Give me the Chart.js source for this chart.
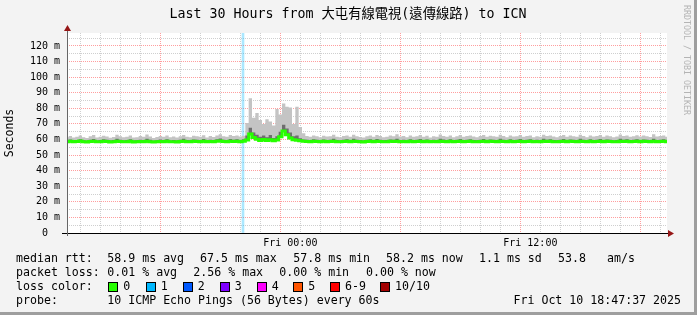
<!DOCTYPE html>
<html>
<head>
<meta charset="utf-8">
<script src="https://cdn.jsdelivr.net/npm/chart.js@4.4.0/dist/chart.umd.min.js"></script>
<style>
  html, body { margin: 0; padding: 0; background: #f3f3f3; }
  #wrap { width: 697px; height: 315px; }
</style>
</head>
<body>
<div id="wrap"><canvas id="chart" width="697" height="315"></canvas></div>
<script>
// 30 hours, one value every 10 minutes, starting Thu 12:50
const stepMin = 10;

// median rtt (ms)
const rttMed = [
  58.6,58.8,58.5,58.7,59.0,58.6,58.4,58.7,58.9,58.5,
  58.6,58.8,58.7,58.4,58.6,58.9,58.7,58.5,58.6,58.8,
  58.4,58.5,58.7,58.6,58.9,58.6,58.3,58.5,58.7,58.6,
  58.8,58.5,58.6,58.4,58.7,58.9,58.6,58.5,58.8,58.7,
  58.6,58.9,58.5,58.7,58.6,58.8,59.0,58.7,58.6,58.9,
  58.7,58.8,58.5,
  58.9,59.6,63.5,61.2,60.1,59.4,60.0,59.3,59.8,59.2,
  59.6,61.8,65.5,63.0,61.0,59.8,59.5,59.1,58.8,
  58.7,58.6,58.9,58.7,58.5,58.8,58.6,58.7,58.9,58.6,
  58.5,58.7,58.8,58.6,58.9,58.7,58.6,58.4,58.7,58.8,
  58.6,58.9,58.7,58.5,58.6,58.8,58.7,58.9,58.6,58.7,
  58.5,58.8,58.6,58.7,58.9,58.6,58.8,58.5,58.7,58.6,
  58.9,58.7,58.6,58.8,58.5,58.7,58.9,58.6,58.7,58.8,
  58.6,58.5,58.7,58.9,58.6,58.8,58.7,58.6,58.9,58.7,
  58.5,58.8,58.6,58.7,58.9,58.6,58.7,58.8,58.5,58.7,
  58.6,58.9,58.7,58.8,58.6,58.5,58.7,58.9,58.6,58.8,
  58.7,58.6,58.9,58.7,58.5,58.8,58.6,58.7,58.9,58.6,
  58.8,58.7,58.5,58.6,58.9,58.7,58.8,58.6,58.7,58.9,
  58.6,58.8,58.7,58.5,58.9,58.6,58.7,58.8,58.6
];

// upper part of the ping spread (dark smoke top, ms)
const rttMid = [
  59.6,60.0,59.3,59.7,60.2,59.5,59.2,59.8,60.3,59.4,
  59.6,60.1,59.8,59.3,59.6,60.4,59.9,59.4,59.7,60.1,
  59.3,59.5,59.9,59.6,60.5,59.8,59.2,59.5,60.0,59.7,
  60.1,59.4,59.7,59.3,59.9,60.4,59.7,59.5,60.0,59.8,
  59.7,60.3,59.4,59.9,59.6,60.1,60.6,59.8,59.7,60.3,
  59.9,60.1,59.6,
  60.1,62.5,67.5,64.5,63.0,61.8,62.5,61.5,62.8,61.0,
  62.0,65.0,69.5,67.0,64.5,62.0,62.5,60.8,60.0,
  59.9,59.6,60.2,59.8,59.4,60.0,59.7,59.8,60.4,59.6,
  59.4,59.9,60.1,59.7,60.4,59.8,59.6,59.3,59.8,60.1,
  59.7,60.3,59.9,59.5,59.6,60.0,59.8,60.5,59.7,59.9,
  59.4,60.1,59.7,59.8,60.3,59.6,60.0,59.3,59.8,59.7,
  60.5,60.0,59.6,60.1,59.4,59.8,60.3,59.7,59.9,60.1,
  59.7,59.5,59.9,60.3,59.6,60.0,59.8,59.7,60.4,59.9,
  59.5,60.1,59.7,59.8,60.3,59.6,59.9,60.1,59.4,59.8,
  59.7,60.4,59.9,60.1,59.7,59.5,59.9,60.3,59.6,60.0,
  59.8,59.7,60.4,59.9,59.5,60.1,59.7,59.9,60.3,59.7,
  60.0,59.8,59.4,59.7,60.5,59.9,60.1,59.7,59.8,60.2,
  59.7,60.0,59.8,59.6,60.5,59.7,59.9,60.1,59.7
];

// max ping (light smoke top, ms)
const rttMax = [
  61.5,62.3,61.2,61.8,62.6,61.4,61.0,62.0,62.8,61.3,
  61.7,62.4,61.9,61.1,61.6,63.0,62.1,61.4,61.8,62.5,
  61.2,61.5,62.2,61.7,63.2,61.9,61.0,61.6,62.3,61.8,
  62.6,61.4,61.9,61.2,62.1,62.9,61.7,61.5,62.4,62.0,
  61.8,62.7,61.3,62.2,61.6,62.5,63.4,62.0,61.7,62.8,
  62.2,62.5,61.9,
  62.4,70.5,86.5,74.0,77.0,72.5,70.0,73.0,71.5,69.0,
  79.5,76.0,83.0,81.0,80.5,70.0,81.0,68.0,64.0,
  62.3,61.8,62.6,62.0,61.5,62.4,61.9,62.1,63.0,61.7,
  61.4,62.2,62.5,61.8,63.1,62.0,61.6,61.3,62.1,62.6,
  61.8,62.9,62.2,61.5,61.7,62.5,62.0,63.3,61.9,62.2,
  61.4,62.6,61.8,62.1,62.8,61.7,62.4,61.3,62.0,61.8,
  63.2,62.3,61.7,62.5,61.4,62.1,62.9,61.8,62.2,62.6,
  61.9,61.5,62.2,62.8,61.7,62.4,62.0,61.8,63.0,62.3,
  61.5,62.6,61.9,62.1,62.9,61.7,62.2,62.5,61.4,62.0,
  61.8,63.1,62.2,62.6,61.9,61.5,62.3,62.9,61.7,62.5,
  62.1,61.8,63.0,62.2,61.5,62.6,61.9,62.3,62.8,61.8,
  62.5,62.1,61.4,61.9,63.2,62.2,62.6,61.8,62.0,62.7,
  61.9,62.5,62.1,61.6,63.4,61.9,62.2,62.5,61.8
];

// packet loss events (minutes from start)
const lossMinutes = [528];

const yMax = 128.3;
const yGridMs = [0,5,10,15,20,25,30,35,40,45,50,55,60,65,70,75,80,85,90,95,100,105,110,115,120,125];
const xLabelMinutes = [670, 1390];
const xLabels = ['Fri 00:00', 'Fri 12:00'];

const lossLabels = ['0', '1', '2', '3', '4', '5', '6-9', '10/10'];
const lossColors = ['#26ff00', '#00b8ff', '#0059ff', '#7e00ff', '#ff00ff', '#ff5500', '#ff0000', '#a10000'];

const title = 'Last 30 Hours from 大屯有線電視(遠傳線路) to ICN';
const rttStats = ['58.9 ms avg', '67.5 ms max', '57.8 ms min', '58.2 ms now', '1.1 ms sd', '53.8', 'am/s'];
const lossStats = ['0.01 % avg', '2.56 % max', '0.00 % min', '0.00 % now'];
const probeText = '10 ICMP Echo Pings (56 Bytes) every 60s';
const stamp = 'Fri Oct 10 18:47:37 2025';
const mono = "'DejaVu Sans Mono', 'Noto Sans CJK TC', monospace";

const pts = arr => arr.map((v, i) => ({ x: i * stepMin, y: v }));

const hourTicks = [];
for (let m = 10; m <= 1790; m += 60) hourTicks.push(m);

const majorRed = 'rgba(255,0,0,0.38)';
const minorGray = 'rgba(128,128,128,0.38)';

const frame = {
  id: 'frame',
  beforeDraw(chart) {
    const { ctx, chartArea: a } = chart;
    ctx.save();
    ctx.fillStyle = '#f3f3f3';
    ctx.fillRect(0, 0, 697, 315);
    ctx.fillStyle = '#9e9e9e';
    ctx.fillRect(694, 0, 3, 315);
    ctx.fillRect(0, 312, 697, 3);
    ctx.fillStyle = '#ffffff';
    ctx.fillRect(a.left, a.top, a.right - a.left, a.bottom - a.top);
    ctx.restore();
  },
  afterDatasetsDraw(chart) {
    const { ctx, chartArea: a } = chart;
    ctx.save();
    ctx.lineWidth = 1;
    ctx.strokeStyle = '#000';
    ctx.beginPath();
    ctx.moveTo(a.left - 5, a.bottom + 0.5);
    ctx.lineTo(a.right + 3, a.bottom + 0.5);
    ctx.stroke();
    ctx.strokeStyle = '#666';
    ctx.beginPath();
    ctx.moveTo(a.left + 0.5, a.bottom + 3);
    ctx.lineTo(a.left + 0.5, a.top - 3);
    ctx.stroke();
    ctx.fillStyle = '#961616';
    ctx.beginPath();
    ctx.moveTo(a.right + 7, a.bottom + 0.5);
    ctx.lineTo(a.right + 1, a.bottom - 3);
    ctx.lineTo(a.right + 1, a.bottom + 4);
    ctx.closePath();
    ctx.fill();
    ctx.beginPath();
    ctx.moveTo(a.left + 0.5, a.top - 8);
    ctx.lineTo(a.left - 3, a.top - 2);
    ctx.lineTo(a.left + 4, a.top - 2);
    ctx.closePath();
    ctx.fill();
    ctx.restore();
  },
  afterDraw(chart) {
    const ctx = chart.ctx;
    ctx.save();
    ctx.fillStyle = '#000';
    ctx.textBaseline = 'middle';
    ctx.textAlign = 'center';
    ctx.font = '13.3px ' + mono;
    ctx.fillText(title, 348, 15);

    // y axis title
    ctx.save();
    ctx.translate(10, 133);
    ctx.rotate(-Math.PI / 2);
    ctx.font = '11.5px ' + mono;
    ctx.fillText('Seconds', 0, 0);
    ctx.restore();

    // rrdtool watermark
    ctx.save();
    ctx.translate(686, 5);
    ctx.rotate(Math.PI / 2);
    ctx.textAlign = 'left';
    ctx.fillStyle = '#b4b4b4';
    ctx.font = '8.3px ' + mono;
    ctx.fillText('RRDTOOL / TOBI OETIKER', 0, 0);
    ctx.restore();

    // legend block
    ctx.textAlign = 'left';
    ctx.font = '11.6px ' + mono;
    ctx.fillText('median rtt:', 16, 259);
    [107.3, 200, 293.3, 386, 479, 558, 607].forEach((x, i) => ctx.fillText(rttStats[i], x, 259));
    ctx.fillText('packet loss:', 16, 273);
    [107.3, 193.3, 279.3, 366].forEach((x, i) => ctx.fillText(lossStats[i], x, 273));
    ctx.fillText('loss color:', 16, 287);
    const boxX = [108.3, 145.7, 182.7, 219.7, 256.7, 293.3, 330, 380];
    lossLabels.forEach((lab, i) => {
      const bx = Math.round(boxX[i]);
      ctx.fillStyle = lossColors[i];
      ctx.fillRect(bx, 282, 10, 10);
      ctx.strokeStyle = '#000';
      ctx.strokeRect(bx + 0.5, 282.5, 9, 9);
      ctx.fillStyle = '#000';
      ctx.fillText(lab, boxX[i] + 15, 287);
    });
    ctx.fillText('probe:', 16, 301);
    ctx.fillText(probeText, 107.3, 301);

    ctx.textAlign = 'right';
    ctx.fillText(stamp, 681, 301);
    ctx.restore();
  }
};

const tickVal = c => (c && c.tick ? c.tick.value : NaN);

new Chart(document.getElementById('chart'), {
  type: 'line',
  data: {
    datasets: [
      {
        type: 'bar',
        data: lossMinutes.map(m => ({ x: m, y: yMax })),
        backgroundColor: 'rgba(0,184,255,0.33)',
        barThickness: 2,
        order: 5
      },
      {
        data: pts(rttMed),
        borderWidth: 0,
        borderColor: 'transparent',
        pointRadius: 0,
        stepped: 'middle',
        fill: false,
        order: 4
      },
      {
        data: pts(rttMax),
        borderWidth: 0,
        borderColor: 'transparent',
        pointRadius: 0,
        stepped: 'middle',
        fill: '-1',
        backgroundColor: '#c4c4c4',
        order: 3
      },
      {
        data: pts(rttMid),
        borderWidth: 0,
        borderColor: 'transparent',
        pointRadius: 0,
        stepped: 'middle',
        fill: 1,
        backgroundColor: '#6e6e6e',
        order: 2
      },
      {
        data: pts(rttMed),
        borderWidth: 3,
        borderColor: '#26ff00',
        pointRadius: 0,
        stepped: 'middle',
        fill: false,
        order: 1
      }
    ]
  },
  options: {
    responsive: false,
    devicePixelRatio: 1,
    animation: false,
    events: [],
    layout: { padding: { left: 0, top: 33, right: 30, bottom: 0 } },
    plugins: { legend: { display: false }, tooltip: { enabled: false }, title: { display: false } },
    scales: {
      x: {
        type: 'linear',
        min: 0,
        max: 1800,
        offset: false,
        afterFit: s => { s.height = 82; },
        afterBuildTicks: s => { s.ticks = hourTicks.map(v => ({ value: v })); },
        ticks: {
          autoSkip: false,
          maxRotation: 0,
          padding: 4,
          color: '#000',
          font: { family: mono, size: 10 },
          callback: v => { const k = xLabelMinutes.indexOf(v); return k >= 0 ? xLabels[k] : ''; }
        },
        grid: {
          drawTicks: false,
          color: c => ((tickVal(c) - 310) % 360 === 0 ? majorRed : minorGray)
        },
        border: { display: false, dash: [1, 1] }
      },
      y: {
        min: 0,
        max: yMax,
        afterFit: s => { s.width = 67; },
        afterBuildTicks: s => { s.ticks = yGridMs.map(v => ({ value: v })); },
        ticks: {
          autoSkip: false,
          padding: 7,
          color: '#000',
          font: { family: mono, size: 10 },
          callback: v => (v % 10 === 0 ? (v === 0 ? '0  ' : v + ' m') : '')
        },
        grid: {
          drawTicks: false,
          color: c => (tickVal(c) % 10 === 0 ? majorRed : minorGray)
        },
        border: { display: false, dash: [1, 1] }
      }
    }
  },
  plugins: [frame]
});
</script>
</body>
</html>
